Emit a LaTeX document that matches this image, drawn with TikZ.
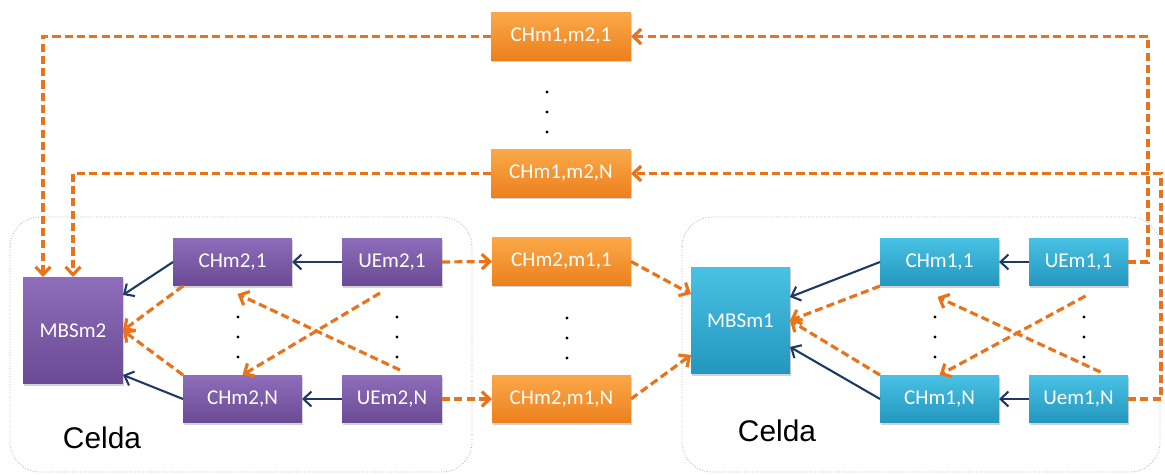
\documentclass[tikz,border=0pt]{standalone}
\usepackage{fontspec}
\setmainfont{Carlito}
\newfontfamily\celdafont{Liberation Sans}
\usepackage{tikz}
\usetikzlibrary{
    arrows.meta,
    calc,
    positioning,
    shadows
}
\definecolor{navyline}{HTML}{1F3864}
\definecolor{orangeline}{HTML}{E8731A}
\definecolor{cellline}{HTML}{A9B8C8}
\definecolor{moradoTop}{RGB}{142,110,186}
\definecolor{moradoBot}{RGB}{106,74,148}
\definecolor{celesteTop}{RGB}{72,194,228}
\definecolor{celesteBot}{RGB}{36,150,190}
\definecolor{naranjaTop}{RGB}{251,168,72}
\definecolor{naranjaBot}{RGB}{236,128,30}

\begin{document}
\begin{tikzpicture}[x=0.02cm, y=-0.02cm,
    box/.style={rectangle, inner sep=0pt, outer sep=0pt, minimum height=0.96cm,
        text=white, font=\fontsize{12}{14}\selectfont,
        drop shadow={shadow xshift=0.7pt, shadow yshift=-0.9pt, opacity=0.35}},
    morado/.style={box, top color=moradoTop, bottom color=moradoBot},
    celeste/.style={box, top color=celesteTop, bottom color=celesteBot},
    naranja/.style={box, top color=naranjaTop, bottom color=naranjaBot},
    ctrl/.style={draw=navyline, line width=1.2pt, -{Straight Barb[length=4.5pt, width=8.5pt]}},
    datos/.style={draw=orangeline, line width=1.8pt, dash pattern=on 4.6pt off 2.4pt,
        -{Straight Barb[length=4.5pt, width=8.5pt]}},
    celda/.style={draw=cellline, densely dotted, line width=0.5pt, rounded corners=0.6cm}
]
    \useasboundingbox (0,0) rectangle (1165,475);

    % cells
    \draw[celda] (10,217) rectangle (472,472);
    \draw[celda] (682,217) rectangle (1160,472);
    \node[font=\celdafont\fontsize{17}{20}\selectfont] (celda2) at (102,438) {Celda};
    \node[font=\celdafont\fontsize{17}{20}\selectfont] (celda1) at (777,431) {Celda};

    % cell m2
    \node[morado, minimum width=2cm, minimum height=2.14cm] (mbs2) at (73,330.5) {MBSm2};
    \node[morado, minimum width=2.38cm] (ch21) at (232.5,262) {CHm2,1};
    \node[morado, minimum width=2.38cm] (chN2) at (242.5,399) {CHm2,N};
    \node[morado, minimum width=2cm] (ue21) at (392,262) {UEm2,1};
    \node[morado, minimum width=2cm] (ueN2) at (392,399) {UEm2,N};

    % cell m1
    \node[celeste, minimum width=1.98cm, minimum height=2.14cm] (mbs1) at (740.5,320.5) {MBSm1};
    \node[celeste, minimum width=2.38cm] (ch11) at (939.5,262) {CHm1,1};
    \node[celeste, minimum width=2.38cm] (chN1) at (939.5,399) {CHm1,N};
    \node[celeste, minimum width=1.98cm] (ue11) at (1078.5,262) {UEm1,1};
    \node[celeste, minimum width=1.98cm] (ueN1) at (1078.5,399) {Uem1,N};

    % channels between cells
    \node[naranja, minimum width=2.8cm] (ch121) at (561,36.5) {CHm1,m2,1};
    \node[naranja, minimum width=2.8cm] (ch12N) at (561,173.5) {CHm1,m2,N};
    \node[naranja, minimum width=2.78cm] (ch211) at (561.5,261.5) {CHm2,m1,1};
    \node[naranja, minimum width=2.78cm] (ch21N) at (561.5,399) {CHm2,m1,N};

    % dots
    \foreach \x/\y in {547/92, 567/318, 238/317, 397/317, 935/317, 1084/317}
        \foreach \d in {0,20,40}
            \fill (\x,\y+\d) circle (0.9pt);

    % inside cell m2
    \draw
    (ue21.west) edge[ctrl] (ch21.east)
    (ueN2.west) edge[ctrl] (chN2.east)
    (ch21.west) edge[ctrl] ($(mbs2.north east)+(0,18)$)
    (chN2.west) edge[ctrl] ($(mbs2.south east)+(0,-9)$)
    ($(ch21.south west)+(10,0)$) edge[datos] (mbs2.east)
    (chN2.north west) edge[datos] (mbs2.east)
    ($(ue21.south)+(-12,7)$) edge[datos] (chN2.north)
    ($(ueN2.north)+(8,-5)$) edge[datos] ($(ch21.south)+(5,8)$);

    % inside cell m1
    \draw
    (ue11.west) edge[ctrl] (ch11.east)
    (ueN1.west) edge[ctrl] (chN1.east)
    (ch11.west) edge[ctrl] ($(mbs1.north east)+(0,30)$)
    (chN1.west) edge[ctrl] ($(mbs1.south east)+(0,-27)$)
    (ch11.south west) edge[datos] (mbs1.east)
    (chN1.north west) edge[datos] (mbs1.east)
    ($(ue11.south)+(7,10)$) edge[datos] (chN1.north)
    ($(ueN1.north)+(22,-3)$) edge[datos] ($(ch11.south)+(-2,11)$);

    % m2 -> m1
    \draw
    (ue21.east) edge[datos] (ch211.west)
    (ueN2.east) edge[datos] (ch21N.west)
    (ch211.east) edge[datos] ($(mbs1.north west)+(0,27)$)
    (ch21N.east) edge[datos] ($(mbs1.south west)+(0,-19)$);

    % m1 -> m2
    \draw[datos] (ue11.east) -- ++(20,0) |- (ch121.east);
    \draw[datos] (ueN1.east) -- ++(33,0) |- (ch12N.east);
    \draw[datos] (ch121.west) -| ($(mbs2.north west)+(20,0)$);
    \draw[datos] (ch12N.west) -| (mbs2.north);
\end{tikzpicture}
\end{document}
